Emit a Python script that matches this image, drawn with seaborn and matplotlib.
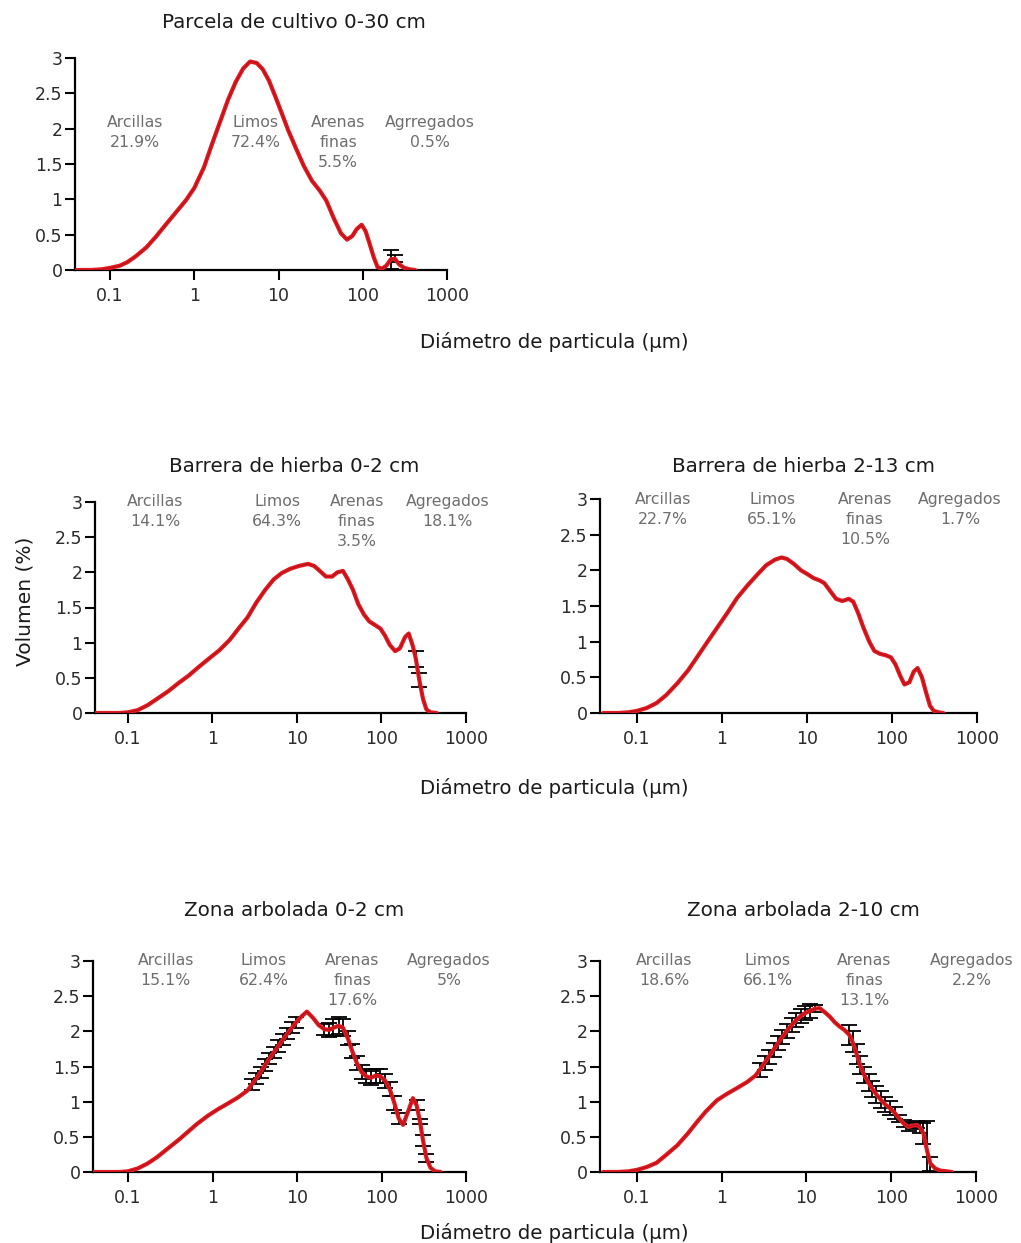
import matplotlib
matplotlib.use("Agg")
import matplotlib.pyplot as plt
from matplotlib.ticker import NullLocator
import seaborn as sns
import pandas as pd

sns.set_theme(style="ticks")
plt.rcParams["font.family"] = ["DejaVu Sans"]

# ---------------------------------------------------------------------------
# Particle size distributions (diameter in µm, volume in %, SD for error bars)
# ---------------------------------------------------------------------------
d_parcela = [0.04, 0.06, 0.08, 0.1, 0.13, 0.16, 0.2, 0.27, 0.35, 0.45, 0.6, 0.8, 1.0, 1.3, 1.6,
             2.0, 2.5, 3.1, 3.8, 4.6, 5.5, 6.5, 7.7, 9.2, 11, 13, 16, 20, 25, 31, 37, 45, 55, 65,
             75, 85, 97, 108, 120, 135, 150, 170, 190, 215, 240, 270, 310, 360, 420]
v_parcela = [0, 0, 0.01, 0.03, 0.06, 0.11, 0.19, 0.32, 0.47, 0.63, 0.81, 0.99, 1.16, 1.45, 1.76,
             2.08, 2.40, 2.66, 2.85, 2.95, 2.93, 2.84, 2.68, 2.45, 2.21, 1.98, 1.73, 1.47, 1.26,
             1.12, 0.98, 0.74, 0.52, 0.43, 0.48, 0.58, 0.64, 0.55, 0.38, 0.18, 0.04, 0.02, 0.06,
             0.15, 0.16, 0.08, 0.03, 0.01, 0]
e_parcela = [0] * 43 + [0.13, 0.05] + [0] * 4

d_hierba02 = [0.04, 0.06, 0.08, 0.1, 0.13, 0.17, 0.22, 0.3, 0.4, 0.52, 0.68, 0.9, 1.2, 1.6, 2.0,
              2.6, 3.3, 4.2, 5.3, 6.6, 8.3, 10.5, 13.5, 16, 19, 22, 26, 30, 35, 40, 46, 53, 62,
              72, 84, 97, 110, 125, 145, 165, 190, 210, 235, 255, 280, 310, 340, 380, 450]
v_hierba02 = [0, 0, 0, 0.01, 0.04, 0.11, 0.20, 0.31, 0.43, 0.53, 0.65, 0.77, 0.89, 1.04, 1.19,
              1.36, 1.57, 1.75, 1.90, 1.99, 2.05, 2.09, 2.12, 2.09, 2.01, 1.94, 1.94, 2.00, 2.02,
              1.90, 1.75, 1.55, 1.40, 1.30, 1.25, 1.20, 1.10, 0.97, 0.88, 0.92, 1.08, 1.13, 0.95,
              0.77, 0.47, 0.20, 0.05, 0.01, 0]
e_hierba02 = [0] * 43 + [0.11, 0.10] + [0] * 4

d_hierba213 = [0.04, 0.06, 0.08, 0.1, 0.13, 0.17, 0.22, 0.3, 0.4, 0.5, 0.65, 0.87, 1.15, 1.5, 2.0,
               2.6, 3.3, 4.2, 5.0, 5.8, 7.0, 8.5, 10, 12, 14, 16, 19, 22, 26, 31, 35, 40, 46, 54,
               62, 72, 84, 97, 110, 125, 140, 160, 180, 200, 225, 250, 280, 310, 350, 400]
v_hierba213 = [0, 0, 0.01, 0.03, 0.07, 0.14, 0.25, 0.42, 0.60, 0.77, 0.97, 1.19, 1.40, 1.61, 1.79,
               1.94, 2.07, 2.15, 2.18, 2.16, 2.09, 2.00, 1.95, 1.89, 1.86, 1.82, 1.70, 1.60, 1.57,
               1.60, 1.56, 1.40, 1.20, 1.00, 0.87, 0.83, 0.81, 0.78, 0.68, 0.52, 0.40, 0.43, 0.58,
               0.63, 0.50, 0.30, 0.10, 0.03, 0.01, 0]
e_hierba213 = [0] * 50

d_arbol02 = [0.04, 0.06, 0.08, 0.1, 0.13, 0.17, 0.22, 0.3, 0.4, 0.51, 0.65, 0.88, 1.15, 1.5, 2.0,
             2.6, 2.9, 3.3, 3.7, 4.2, 4.7, 5.3, 6.0, 6.8, 7.7, 8.7, 9.8, 11.5, 13.1, 15.5, 18, 21,
             24, 27, 31, 35, 40, 45, 51, 58, 66, 75, 85, 97, 110, 125, 142, 160, 180, 205, 235,
             260, 285, 310, 340, 380, 430, 500]
v_arbol02 = [0, 0, 0, 0.01, 0.05, 0.12, 0.21, 0.34, 0.46, 0.57, 0.68, 0.80, 0.89, 0.97, 1.06,
             1.16, 1.24, 1.33, 1.42, 1.52, 1.61, 1.70, 1.79, 1.88, 1.97, 2.05, 2.13, 2.22, 2.28,
             2.19, 2.09, 2.03, 2.02, 2.05, 2.08, 2.05, 1.90, 1.72, 1.55, 1.42, 1.36, 1.34, 1.37,
             1.36, 1.30, 1.18, 0.98, 0.76, 0.67, 0.85, 1.05, 0.95, 0.72, 0.45, 0.20, 0.06, 0.01, 0]
e_arbol02 = ([0] * 16 + [0.08] * 11 + [0, 0, 0, 0]
             + [0.08, 0.10, 0.12, 0.12, 0.12, 0.10, 0.10, 0.10, 0.10, 0.10, 0.10, 0.10, 0.10,
                0.10, 0.10, 0.10, 0.08]
             + [0, 0, 0, 0.07, 0.04, 0.08, 0.06, 0, 0, 0])

d_arbol210 = [0.04, 0.06, 0.08, 0.1, 0.13, 0.17, 0.22, 0.3, 0.4, 0.51, 0.65, 0.88, 1.15, 1.5, 2.0,
              2.5, 2.8, 3.2, 3.6, 4.1, 4.6, 5.2, 5.9, 6.7, 7.6, 8.6, 9.7, 11, 12.5, 14.3, 16.5,
              18.8, 21.5, 24.5, 28, 32, 35, 39, 43, 48, 54, 60, 67, 75, 85, 96, 110, 125, 140,
              160, 180, 200, 220, 240, 265, 290, 330, 380, 450, 520]
v_arbol210 = [0, 0, 0.01, 0.03, 0.07, 0.13, 0.24, 0.38, 0.55, 0.71, 0.86, 1.02, 1.11, 1.19, 1.28,
              1.37, 1.45, 1.55, 1.64, 1.74, 1.83, 1.92, 2.01, 2.09, 2.16, 2.22, 2.26, 2.29, 2.32,
              2.33, 2.27, 2.21, 2.13, 2.07, 2.02, 1.95, 1.85, 1.68, 1.52, 1.38, 1.27, 1.18, 1.10,
              1.03, 0.96, 0.91, 0.84, 0.76, 0.69, 0.64, 0.66, 0.67, 0.63, 0.55, 0.30, 0.12, 0.05,
              0.02, 0.01, 0]
e_arbol210 = ([0] * 16 + [0.10] * 12 + [0.05] + [0] * 6
              + [0.14, 0.15, 0.14, 0.13, 0.12, 0.12, 0.12, 0.12, 0.12, 0.10, 0.10, 0.08, 0.05,
                 0.05, 0.05, 0.05, 0.05, 0.08, 0.15, 0.42, 0.10]
              + [0] * 4)

# Fraction labels for each sample
lab_parcela = ["Arcillas\n21.9%", "Limos\n72.4%", "Arenas\nfinas\n5.5%", "Agrregados\n0.5%"]
lab_hierba02 = ["Arcillas\n14.1%", "Limos\n64.3%", "Arenas\nfinas\n3.5%", "Agregados\n18.1%"]
lab_hierba213 = ["Arcillas\n22.7%", "Limos\n65.1%", "Arenas\nfinas\n10.5%", "Agregados\n1.7%"]
lab_arbol02 = ["Arcillas\n15.1%", "Limos\n62.4%", "Arenas\nfinas\n17.6%", "Agregados\n5%"]
lab_arbol210 = ["Arcillas\n18.6%", "Limos\n66.1%", "Arenas\nfinas\n13.1%", "Agregados\n2.2%"]

titles = ["Parcela de cultivo 0-30 cm", "Barrera de hierba 0-2 cm", "Barrera de hierba 2-13 cm",
          "Zona arbolada 0-2 cm", "Zona arbolada 2-10 cm"]

x_ticks = [0.1, 1, 10, 100, 1000]
x_ticklabels = ["0.1", "1", "10", "100", "1000"]
y_ticks = [0, 0.5, 1, 1.5, 2, 2.5, 3]
y_ticklabels = ["0", "0.5", "1", "1.5", "2", "2.5", "3"]

W, H = 1021, 1243

# layout in pixels: (left, top, right, bottom), x lower limit, label x positions, label top y
panels = [
    dict(d=d_parcela, v=v_parcela, e=e_parcela, lab=lab_parcela, title=titles[0],
         box=(75, 58, 447, 270), xmin=0.0384, lx=[0.2, 5.3, 51, 630], ly=2.2,
         tpos=(294, 22)),
    dict(d=d_hierba02, v=v_hierba02, e=e_hierba02, lab=lab_hierba02, title=titles[1],
         box=(95, 502, 466, 713), xmin=0.0407, lx=[0.21, 5.8, 51, 600], ly=3.12,
         tpos=(294, 467)),
    dict(d=d_hierba213, v=v_hierba213, e=e_hierba213, lab=lab_hierba213, title=titles[2],
         box=(600, 499, 977, 713), xmin=0.0367, lx=[0.2, 3.9, 48, 630], ly=3.1,
         tpos=(803, 467)),
    dict(d=d_arbol02, v=v_arbol02, e=e_arbol02, lab=lab_arbol02, title=titles[3],
         box=(93, 961, 466, 1172), xmin=0.0385, lx=[0.28, 4.05, 45, 630], ly=3.12,
         tpos=(294, 910)),
    dict(d=d_arbol210, v=v_arbol210, e=e_arbol210, lab=lab_arbol210, title=titles[4],
         box=(600, 961, 976, 1172), xmin=0.0367, lx=[0.21, 3.5, 48, 890], ly=3.12,
         tpos=(803, 910)),
]

fig = plt.figure(figsize=(W / 100, H / 100), dpi=100)
fig.patch.set_facecolor("white")

for p in panels:
    l, t, r, b = p["box"]
    ax = fig.add_axes([l / W, 1 - b / H, (r - l) / W, (b - t) / H])
    df = pd.DataFrame({"d": p["d"], "v": p["v"], "e": p["e"]})

    eb = df[df["e"] > 0]
    if len(eb):
        ax.errorbar(eb["d"], eb["v"], yerr=eb["e"], fmt="none", ecolor="black",
                    elinewidth=1.3, capsize=5.5, capthick=1.3, zorder=2)
    sns.lineplot(data=df, x="d", y="v", ax=ax, color="#e41a20", lw=3.0,
                 estimator=None, sort=False, zorder=3)
    sns.lineplot(data=df, x="d", y="v", ax=ax, color="#b3121a", lw=0.8,
                 estimator=None, sort=False, zorder=4)

    ax.set_xscale("log")
    ax.set_xlim(p["xmin"], 1000)
    ax.set_ylim(0, 3)
    ax.set_xticks(x_ticks)
    ax.set_xticklabels(x_ticklabels)
    ax.xaxis.set_minor_locator(NullLocator())
    ax.set_yticks(y_ticks)
    ax.set_yticklabels(y_ticklabels)
    ax.set_xlabel("")
    ax.set_ylabel("")
    sns.despine(ax=ax)
    for s in ("left", "bottom"):
        ax.spines[s].set_linewidth(1.6)
        ax.spines[s].set_color("black")
    ax.tick_params(axis="both", direction="out", length=7, width=1.5, colors="black",
                   labelsize=12.5, labelcolor="#2a2a2a")
    ax.tick_params(axis="x", pad=5)
    ax.tick_params(axis="y", pad=2)
    ax.set_facecolor("white")

    for x, txt in zip(p["lx"], p["lab"]):
        ax.text(x, p["ly"], txt, ha="center", va="top", fontsize=11.3, color="#6e6e6e",
                linespacing=1.42, clip_on=False)

    fig.text(p["tpos"][0] / W, 1 - p["tpos"][1] / H, p["title"], ha="center", va="center",
             fontsize=14.3, color="#1a1a1a")

for yy in (342, 788, 1233):
    fig.text(554 / W, 1 - yy / H, "Diámetro de particula (µm)", ha="center", va="center",
             fontsize=14.2, color="#1a1a1a")

fig.text(25 / W, 1 - 601 / H, "Volumen (%)", ha="center", va="center", rotation=90,
         fontsize=14.5, color="#1a1a1a")

fig.savefig("out.png", dpi=100, facecolor="white")
